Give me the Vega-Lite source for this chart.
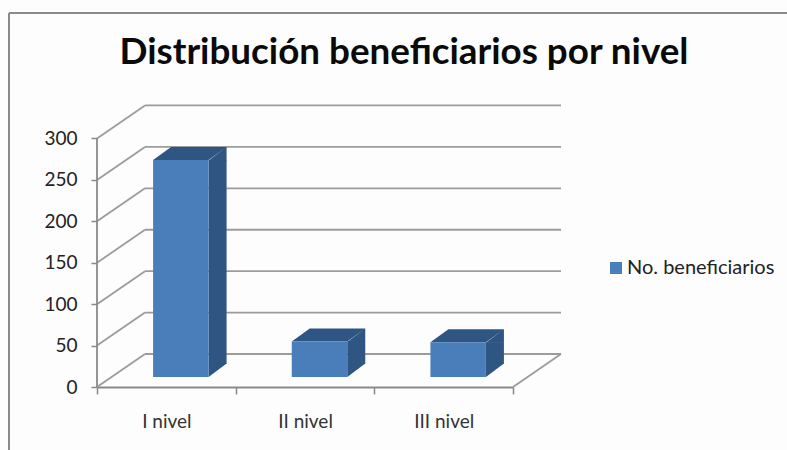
{
"$schema":"https://vega.github.io/schema/vega-lite/v6.json",
"width":464,"height":281,
"autosize":{"type":"none"},
"padding":{"left":97,"top":106,"right":226,"bottom":63},
"background":"#fdfdfd",
"title":{"text":"Distribución beneficiarios por nivel","font":"Lato","fontSize":36.8,"fontWeight":"bold","color":"#0a0a0a","anchor":"middle","frame":"group","dx":75,"offset":-60},
"config":{"view":{"stroke":null}},
"datasets":{
"grid":[{"v":0},{"v":50},{"v":100},{"v":150},{"v":200},{"v":250},{"v":300}],
"bars":[{"nivel":"I nivel","valor":262,"serie":"No. beneficiarios"},{"nivel":"II nivel","valor":43,"serie":"No. beneficiarios"},{"nivel":"III nivel","valor":42,"serie":"No. beneficiarios"}]
},
"resolve":{"scale":{"x":"independent"}},
"layer":[
{"data":{"name":"grid"},
 "layer":[
  {"mark":{"type":"rule","color":"#9c9c9c","strokeWidth":1.8,"yOffset":-33},
   "encoding":{"x":{"datum":0.346,"type":"quantitative","scale":{"domain":[0,3.346],"range":[0,464],"nice":false,"zero":false},"axis":null},"x2":{"datum":3.346},"y":{"field":"v","type":"quantitative","scale":{"domain":[0,339.2],"range":[281,0],"nice":false},"axis":{"values":[0,50,100,150,200,250,300],"title":null,"grid":false,"domain":false,"tickColor":"#8a8a8a","tickWidth":1.5,"tickSize":6,"labelFont":"Lato","labelFontSize":19,"labelColor":"#222222","labelPadding":14}}}},
  {"mark":{"type":"rule","color":"#9c9c9c","strokeWidth":1.8,"y2Offset":-33},
   "encoding":{"x":{"datum":0,"type":"quantitative"},"x2":{"datum":0.346},"y":{"field":"v","type":"quantitative"},"y2":{"field":"v"}}},
  {"transform":[{"filter":"datum.v===0"}],"mark":{"type":"rule","color":"#9c9c9c","strokeWidth":1.8,"y2Offset":-33},
   "encoding":{"x":{"datum":3,"type":"quantitative"},"x2":{"datum":3.346},"y":{"field":"v","type":"quantitative"},"y2":{"field":"v"}}},
  {"transform":[{"filter":"datum.v===0"}],"mark":{"type":"rule","color":"#8a8a8a","strokeWidth":1.8},
   "encoding":{"x":{"datum":0,"type":"quantitative"},"y":{"datum":0,"type":"quantitative"},"y2":{"datum":300}}}
 ]},
{"data":{"name":"bars"},
 "layer":[
  {"mark":{"type":"bar","color":"#2f5583","size":18,"xOffset":51.25,"yOffset":-10,"y2Offset":-23},
   "encoding":{"x":{"field":"nivel","type":"nominal","sort":null,"scale":{"type":"band","range":[0,416],"padding":0},"axis":{"orient":"bottom","title":null,"labelAngle":0,"bandPosition":0,"tickBand":"extent","domainColor":"#8a8a8a","domainWidth":1.8,"tickColor":"#8a8a8a","tickWidth":1.5,"tickSize":7,"labelFont":"Lato","labelFontSize":19,"labelColor":"#333333","labelPadding":18}},"y":{"field":"valor","type":"quantitative"},"y2":{"datum":0}}},
  {"mark":{"type":"point","filled":true,"color":"#2f5583","opacity":1,"strokeWidth":0,"size":4,"xOffset":14.5,"yOffset":-10,"shape":"M-27.75 0L27.75 0L45.75 -13L-9.75 -13Z M27.75 0.5L45.75 -13L45.75 0.5Z"},
   "encoding":{"x":{"field":"nivel","type":"nominal","sort":null},"y":{"field":"valor","type":"quantitative"}}},
  {"mark":{"type":"point","filled":true,"color":"#2f5583","opacity":1,"strokeWidth":0,"size":4,"xOffset":14.5,"yOffset":-10,"shape":"M27.75 -13.5L45.75 -13.5L27.75 0Z"},
   "encoding":{"x":{"field":"nivel","type":"nominal","sort":null},"y":{"datum":0,"type":"quantitative"}}},
  {"mark":{"type":"bar","size":55.5,"xOffset":14.5,"yOffset":-10,"y2Offset":-10},
   "encoding":{"x":{"field":"nivel","type":"nominal","sort":null},"y":{"field":"valor","type":"quantitative"},"y2":{"datum":0},
    "color":{"field":"serie","type":"nominal","scale":{"range":["#4a7ebb"]},"legend":{"title":null,"orient":"none","legendX":509,"legendY":152,"symbolType":"square","symbolSize":144,"symbolStrokeWidth":0,"labelFont":"Lato","labelFontSize":20,"labelColor":"#222222","labelOffset":1}}}}
 ]},
{"data":{"values":[{"marco":"borde"}]},
 "layer":[
  {"mark":{"type":"rule","color":"#8a8a8a","strokeWidth":2,"clip":false},"encoding":{"x":{"value":-88},"x2":{"value":700},"y":{"value":-93}}},
  {"mark":{"type":"rule","color":"#8a8a8a","strokeWidth":2,"clip":false},"encoding":{"x":{"value":-88},"y":{"value":-93},"y2":{"value":344}}}
 ]}
]
}
